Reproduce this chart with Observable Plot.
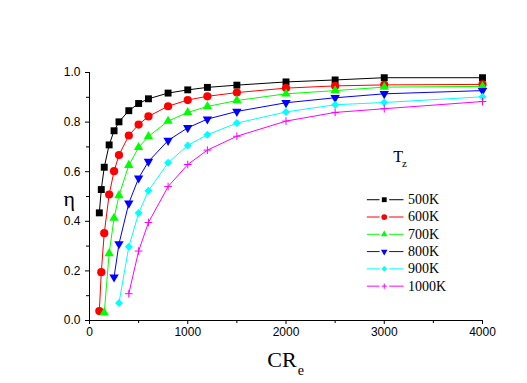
<!DOCTYPE html>
<html>
<head>
<meta charset="utf-8">
<script src="https://cdn.jsdelivr.net/npm/d3@7"></script>
<script src="https://cdn.jsdelivr.net/npm/@observablehq/plot@0.6"></script>
<style>
  html, body { margin: 0; padding: 0; background: #fff; }
</style>
</head>
<body>
<div id="chart"></div>
<script>
// Series labels (legend)
const labels = ["500K", "600K", "700K", "800K", "900K", "1000K"];
const colors = ["#000000", "#ff0000", "#00ff00", "#0000ff", "#00ffff", "#ff00ff"];

// CR_e values for each series
const x500  = [100,120,150,200,250,300,400,500,600,800,1000,1200,1500,2000,2500,3000,4000];
const x600  = [100,120,150,200,250,300,400,500,600,800,1000,1200,1500,2000,2500,3000,4000];
const x700  = [150,200,250,300,400,500,600,800,1000,1200,1500,2000,2500,3000,4000];
const x800  = [250,300,400,500,600,800,1000,1200,1500,2000,2500,3000,4000];
const x900  = [300,400,500,600,800,1000,1200,1500,2000,2500,3000,4000];
const x1000 = [400,500,600,800,1000,1200,1500,2000,2500,3000,4000];

// eta values for each series
const y500  = [0.434,0.528,0.618,0.708,0.765,0.801,0.846,0.875,0.894,0.917,0.930,0.940,0.949,0.962,0.970,0.979,0.979];
const y600  = [0.038,0.195,0.352,0.508,0.602,0.667,0.746,0.790,0.823,0.864,0.889,0.904,0.919,0.937,0.946,0.950,0.952];
const y700  = [0.031,0.270,0.413,0.504,0.626,0.698,0.742,0.804,0.839,0.863,0.887,0.914,0.927,0.941,0.944];
const y800  = [0.175,0.309,0.473,0.574,0.641,0.726,0.777,0.812,0.843,0.878,0.898,0.914,0.927];
const y900  = [0.071,0.297,0.433,0.523,0.636,0.706,0.749,0.796,0.841,0.870,0.879,0.902];
const y1000 = [0.108,0.280,0.395,0.540,0.629,0.687,0.743,0.804,0.839,0.854,0.883];

// Axis ticks
const xTicks = [0,1000,2000,3000,4000];
const xMinor = [500,1500,2500,3500];
const yTicks = [0,0.2,0.4,0.6,0.8,1.0];
const yMinor = [0.1,0.3,0.5,0.7,0.9];

const xsAll = [x500, x600, x700, x800, x900, x1000];
const ysAll = [y500, y600, y700, y800, y900, y1000];

const markerStyles = [
  {symbol: "square", r: 3.9, filled: true},
  {symbol: "circle", r: 4.1, filled: true},
  {symbol: "triangle", r: 3.5, filled: true},
  {symbol: "triangle", r: 3.5, filled: true, rotate: 180},
  {symbol: "diamond2", r: 3.6, filled: true},
  {symbol: "plus", r: 2.6, filled: false}
];

const series = labels.map((label, i) => ({
  label,
  color: colors[i],
  style: markerStyles[i],
  data: xsAll[i].map((x, j) => ({x, y: ysAll[i][j]}))
}));

function dotMark(data, s, color, scale, opts) {
  const m = s.style;
  return Plot.dot(data, Object.assign({
    symbol: () => m.symbol,
    r: m.r * scale,
    rotate: m.rotate || 0,
    fill: m.filled ? color : "none",
    stroke: m.filled ? "none" : color,
    strokeWidth: 1
  }, opts));
}

const marks = [];
// axes
marks.push(Plot.ruleX([0], {stroke: "#000", strokeWidth: 1}));
marks.push(Plot.ruleY([0], {stroke: "#000", strokeWidth: 1}));
marks.push(Plot.axisX(xTicks, {tickSize: 4, tickPadding: 3, tickFormat: d => String(d), label: null}));
marks.push(Plot.axisX(xMinor, {tickSize: 3, tickFormat: () => "", label: null}));
marks.push(Plot.axisY(yTicks, {tickSize: 4, tickPadding: 5, tickFormat: d3.format(".1f"), label: null}));
marks.push(Plot.axisY(yMinor, {tickSize: 3, tickFormat: () => "", label: null}));

// series
series.forEach(s => {
  marks.push(Plot.line(s.data, {x: "x", y: "y", stroke: s.color, strokeWidth: 1}));
  marks.push(dotMark(s.data, s, s.color, 1, {x: "x", y: "y"}));
});

// legend (placed in data space, upper right of lower area)
const legX1 = 2823, legX2 = 2952, legX3 = 3050, legX4 = 3196, legM = 3000, legT = 3241;
const legY0 = 0.487, legStep = 0.0697;
series.forEach((s, i) => {
  const ly = legY0 - i * legStep;
  marks.push(Plot.link([0], {x1: () => legX1, x2: () => legX2, y1: () => ly, y2: () => ly, stroke: s.color, strokeWidth: 1}));
  marks.push(Plot.link([0], {x1: () => legX3, x2: () => legX4, y1: () => ly, y2: () => ly, stroke: s.color, strokeWidth: 1}));
  marks.push(dotMark([0], s, s.color, 0.7, {x: () => legM, y: () => ly}));
  marks.push(Plot.text([s.label], {x: () => legT, y: () => ly, text: d => d, textAnchor: "start", lineAnchor: "middle",
    fontFamily: "'Liberation Serif', 'Times New Roman', serif", fontSize: 14, fill: "#000"}));
});

// legend title T_z
marks.push(Plot.text(["T"], {x: () => 3091, y: () => 0.641, text: d => d, textAnchor: "start", lineAnchor: "bottom",
  fontFamily: "'Liberation Serif', 'Times New Roman', serif", fontSize: 16, fill: "#000"}));
marks.push(Plot.text(["z"], {x: () => 3180, y: () => 0.617, text: d => d, textAnchor: "start", lineAnchor: "bottom",
  fontFamily: "'Liberation Serif', 'Times New Roman', serif", fontSize: 11, fill: "#000"}));

// axis titles
marks.push(Plot.text(["CR"], {x: () => 1809, y: () => -0.1895, text: d => d, textAnchor: "start", lineAnchor: "bottom",
  fontFamily: "'Liberation Serif', 'Times New Roman', serif", fontSize: 22, fill: "#000"}));
marks.push(Plot.text(["e"], {x: () => 2119, y: () => -0.218, text: d => d, textAnchor: "start", lineAnchor: "bottom",
  fontFamily: "'Liberation Serif', 'Times New Roman', serif", fontSize: 14, fill: "#000"}));
marks.push(Plot.text(["η"], {x: () => -207, y: () => 0.49, text: d => d, textAnchor: "middle", lineAnchor: "middle",
  fontFamily: "'Liberation Serif', 'Times New Roman', serif", fontSize: 22, fill: "#000"}));

const plot = Plot.plot({
  width: 527,
  height: 383,
  marginLeft: 89,
  marginRight: 45,
  marginTop: 72,
  marginBottom: 63,
  x: {domain: [0, 4000]},
  y: {domain: [0, 1]},
  style: {fontFamily: "'Liberation Sans', Arial, sans-serif", fontSize: "12px", color: "#000", background: "#fff"},
  marks
});
document.getElementById("chart").appendChild(plot);
</script>
</body>
</html>
